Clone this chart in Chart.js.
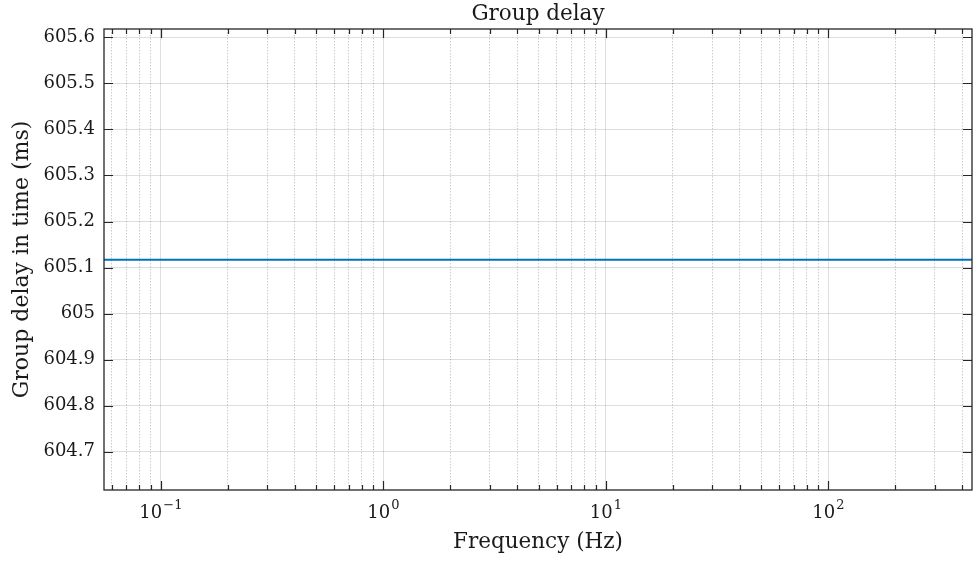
<!DOCTYPE html>
<html>
<head>
<meta charset="utf-8">
<script src="https://cdn.jsdelivr.net/npm/chart.js@4"></script>
<style>
html,body{margin:0;padding:0;background:#fff;}
#wrap{width:973px;height:561px;}
</style>
</head>
<body>
<div id="wrap"><canvas id="c" width="973" height="561"></canvas></div>
<script>
// ---- data ----
const frequencies = [0.0555, 0.1, 1, 10, 100, 442];          // Hz
const groupDelay  = [605.117, 605.117, 605.117, 605.117, 605.117, 605.117]; // ms
const xMin = 0.0555, xMax = 442;
const yMin = 604.617, yMax = 605.618;
const yTicks = [604.7, 604.8, 604.9, 605.0, 605.1, 605.2, 605.3, 605.4, 605.5, 605.6];
const yTickLabels = ['604.7','604.8','604.9','605','605.1','605.2','605.3','605.4','605.5','605.6'];
const xMajorValues = [0.1, 1, 10, 100];
const xMajorExponents = ['\u22121', '0', '1', '2'];
const xGridTicks = [0.06,0.07,0.08,0.09,
  0.1,0.2,0.3,0.4,0.5,0.6,0.7,0.8,0.9,
  1,2,3,4,5,6,7,8,9,
  10,20,30,40,50,60,70,80,90,
  100,200,300,400];
const titleText = 'Group delay';
const xTitle = 'Frequency (Hz)';
const yTitle = 'Group delay in time (ms)';

const SERIF = '"DejaVu Serif", "Liberation Serif", serif';
const TXT = '#1a1a1a';
const isMajor = v => Math.abs(Math.log10(v) - Math.round(Math.log10(v))) < 1e-9;

const overlay = {
  id: 'overlay',
  afterDraw(chart) {
    const {ctx, chartArea: a, scales: {x, y}} = chart;
    ctx.save();
    // axis box
    ctx.strokeStyle = '#262626';
    ctx.lineWidth = 1.3;
    ctx.strokeRect(a.left, a.top, a.right - a.left, a.bottom - a.top);
    // x tick marks (inside, top and bottom)
    ctx.lineWidth = 1.2;
    ctx.beginPath();
    xGridTicks.forEach(v => {
      const px = Math.round(x.getPixelForValue(v)) + 0.5;
      const len = isMajor(v) ? 9 : 5;
      ctx.moveTo(px, a.bottom); ctx.lineTo(px, a.bottom - len);
      ctx.moveTo(px, a.top); ctx.lineTo(px, a.top + len);
    });
    yTicks.forEach(v => {
      const py = Math.round(y.getPixelForValue(v)) + 0.5;
      ctx.moveTo(a.left, py); ctx.lineTo(a.left + 9, py);
      ctx.moveTo(a.right, py); ctx.lineTo(a.right - 9, py);
    });
    ctx.stroke();
    // x tick labels 10^n
    ctx.fillStyle = TXT;
    ctx.textBaseline = 'alphabetic';
    xMajorValues.forEach((v, i) => {
      const px = x.getPixelForValue(v);
      ctx.font = '18px ' + SERIF;
      const wb = ctx.measureText('10').width;
      ctx.font = '13px ' + SERIF;
      const we = ctx.measureText(xMajorExponents[i]).width;
      const start = px - (wb + we + 1) / 2;
      ctx.font = '18px ' + SERIF;
      ctx.textAlign = 'left';
      ctx.fillText('10', start, 518);
      ctx.font = '13px ' + SERIF;
      ctx.fillText(xMajorExponents[i], start + wb + 1, 509);
    });
    // titles
    const cx = (a.left + a.right) / 2;
    ctx.textAlign = 'center';
    ctx.font = '21.5px ' + SERIF;
    ctx.fillText(titleText, cx, 20);
    ctx.fillText(xTitle, cx, 548);
    ctx.save();
    ctx.translate(28, (a.top + a.bottom) / 2);
    ctx.rotate(-Math.PI / 2);
    ctx.font = '22px ' + SERIF;
    ctx.fillText(yTitle, 0, 0);
    ctx.restore();
    ctx.restore();
  }
};

new Chart(document.getElementById('c'), {
  type: 'line',
  data: {
    datasets: [{
      data: frequencies.map((f, i) => ({x: f, y: groupDelay[i]})),
      borderColor: '#0072BD',
      borderWidth: 2,
      pointRadius: 0,
      fill: false,
      tension: 0
    }]
  },
  options: {
    responsive: false,
    animation: false,
    layout: {padding: {top: 29, right: 1, left: 0, bottom: 0}},
    plugins: {legend: {display: false}, tooltip: {enabled: false}, title: {display: false}},
    scales: {
      x: {
        type: 'logarithmic',
        min: xMin, max: xMax,
        afterBuildTicks: s => { s.ticks = xGridTicks.map(v => ({value: v, major: isMajor(v)})); },
        afterFit: s => { s.height = 71; },
        ticks: {display: false},
        grid: {
          drawTicks: false,
          color: c => isMajor(c.tick.value) ? 'rgba(0,0,0,0.13)' : 'rgba(0,0,0,0.2)',
          lineWidth: 1
        },
        border: {display: false, dash: c => (c.tick && !isMajor(c.tick.value)) ? [1.5, 1.5] : []}
      },
      y: {
        type: 'linear',
        min: yMin, max: yMax,
        afterBuildTicks: s => { s.ticks = yTicks.map(v => ({value: v})); },
        afterFit: s => { s.width = 104; },
        ticks: {
          padding: 9,
          color: TXT,
          font: {family: SERIF, size: 18},
          callback: (v, i) => yTickLabels[i]
        },
        grid: {drawTicks: false, color: 'rgba(0,0,0,0.13)', lineWidth: 1},
        border: {display: false}
      }
    }
  },
  plugins: [overlay]
});
</script>
</body>
</html>
